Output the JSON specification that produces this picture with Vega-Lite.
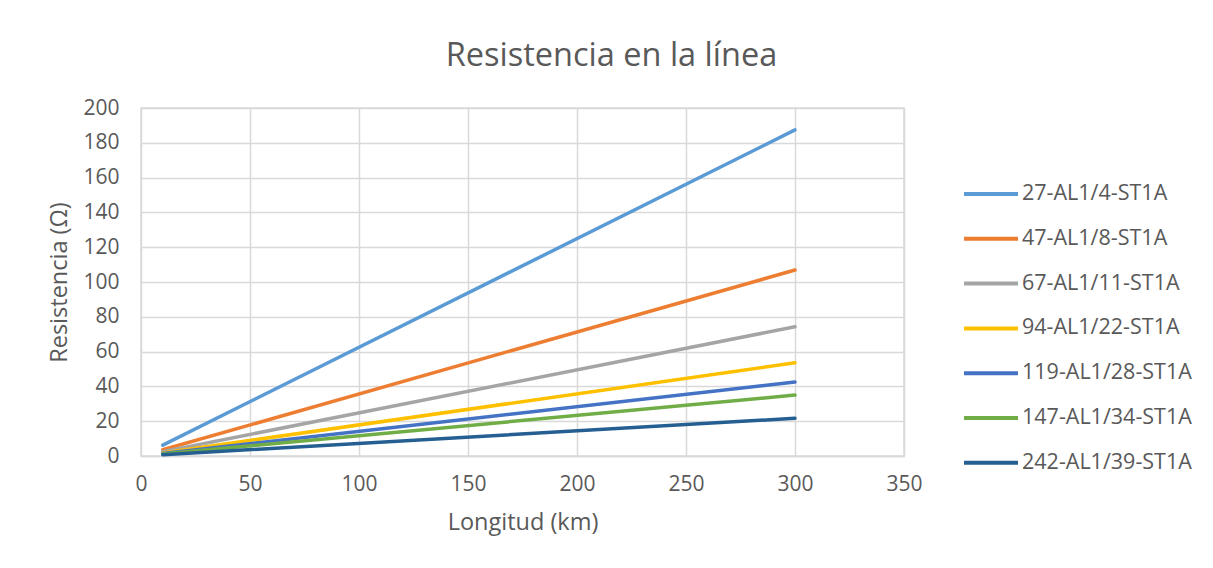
{
  "$schema": "https://vega.github.io/schema/vega-lite/v6.json",
  "width": 763,
  "height": 348,
  "autosize": "none",
  "padding": {"left": 141, "top": 108, "right": 309, "bottom": 112},
  "background": "white",
  "title": {
    "text": "Resistencia en la línea",
    "font": "Open Sans",
    "fontSize": 32.5,
    "fontWeight": "normal",
    "color": "#595959",
    "anchor": "middle",
    "dx": 89,
    "offset": 25
  },
  "data": {
    "values": [
      {"cable": "27-AL1/4-ST1A", "km": 10, "r": 6.25},
      {"cable": "27-AL1/4-ST1A", "km": 300, "r": 187.4},
      {"cable": "47-AL1/8-ST1A", "km": 10, "r": 3.57},
      {"cable": "47-AL1/8-ST1A", "km": 300, "r": 106.9},
      {"cable": "67-AL1/11-ST1A", "km": 10, "r": 2.48},
      {"cable": "67-AL1/11-ST1A", "km": 300, "r": 74.3},
      {"cable": "94-AL1/22-ST1A", "km": 10, "r": 1.79},
      {"cable": "94-AL1/22-ST1A", "km": 300, "r": 53.6},
      {"cable": "119-AL1/28-ST1A", "km": 10, "r": 1.42},
      {"cable": "119-AL1/28-ST1A", "km": 300, "r": 42.5},
      {"cable": "147-AL1/34-ST1A", "km": 10, "r": 1.17},
      {"cable": "147-AL1/34-ST1A", "km": 300, "r": 35.0},
      {"cable": "242-AL1/39-ST1A", "km": 10, "r": 0.72},
      {"cable": "242-AL1/39-ST1A", "km": 300, "r": 21.7}
    ]
  },
  "mark": {"type": "line", "strokeWidth": 3.5, "strokeCap": "round"},
  "encoding": {
    "x": {
      "field": "km",
      "type": "quantitative",
      "scale": {"domain": [0, 350], "nice": false, "zero": false},
      "axis": {
        "title": "Longitud (km)",
        "values": [0, 50, 100, 150, 200, 250, 300, 350],
        "grid": true,
        "gridColor": "#d9d9d9",
        "gridWidth": 1.5,
        "domainColor": "#d9d9d9",
        "domainWidth": 1.5,
        "ticks": false,
        "labelFlush": false,
        "labelPadding": 17,
        "labelFont": "Open Sans",
        "labelFontSize": 21,
        "labelColor": "#595959",
        "titleFont": "Open Sans",
        "titleFontSize": 23.5,
        "titleFontWeight": "normal",
        "titleColor": "#595959",
        "titlePadding": 16
      }
    },
    "y": {
      "field": "r",
      "type": "quantitative",
      "scale": {"domain": [0, 200], "nice": false},
      "axis": {
        "title": "Resistencia (Ω)",
        "values": [0, 20, 40, 60, 80, 100, 120, 140, 160, 180, 200],
        "grid": true,
        "gridColor": "#d9d9d9",
        "gridWidth": 1.5,
        "domain": false,
        "ticks": false,
        "labelPadding": 22,
        "labelFont": "Open Sans",
        "labelFontSize": 21,
        "labelColor": "#595959",
        "titleFont": "Open Sans",
        "titleFontSize": 23.5,
        "titleFontWeight": "normal",
        "titleColor": "#595959",
        "titlePadding": 11
      }
    },
    "color": {
      "field": "cable",
      "type": "nominal",
      "sort": ["27-AL1/4-ST1A", "47-AL1/8-ST1A", "67-AL1/11-ST1A", "94-AL1/22-ST1A", "119-AL1/28-ST1A", "147-AL1/34-ST1A", "242-AL1/39-ST1A"],
      "scale": {
        "domain": ["27-AL1/4-ST1A", "47-AL1/8-ST1A", "67-AL1/11-ST1A", "94-AL1/22-ST1A", "119-AL1/28-ST1A", "147-AL1/34-ST1A", "242-AL1/39-ST1A"],
        "range": ["#5B9BD5", "#ED7D31", "#A5A5A5", "#FFC000", "#4472C4", "#70AD47", "#255E91"]
      },
      "legend": {
        "title": null,
        "orient": "none",
        "legendX": 821,
        "legendY": 57,
        "symbolType": "stroke",
        "symbolSize": 2916,
        "symbolStrokeWidth": 4,
        "rowPadding": 4.8,
        "labelOffset": 2,
        "labelLimit": 400,
        "labelFont": "Open Sans",
        "labelFontSize": 21.5,
        "labelColor": "#595959"
      }
    }
  },
  "config": {"view": {"stroke": "#d9d9d9", "strokeWidth": 1.5}}
}
